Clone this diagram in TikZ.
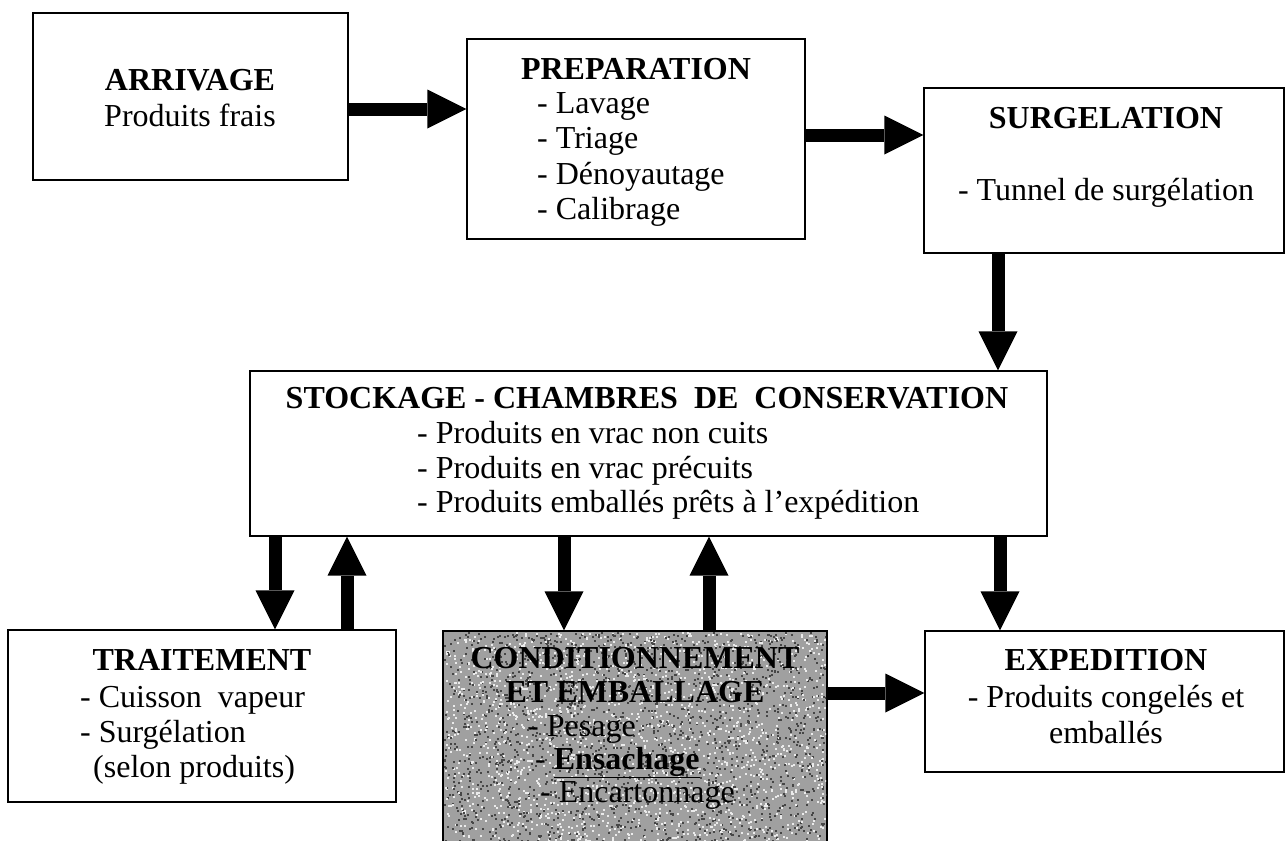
\documentclass[tikz,border=0pt]{standalone}
\usepackage{fontspec}
\setmainfont{Liberation Serif}
\usetikzlibrary{arrows.meta}
\definecolor{speckle}{RGB}{160,160,160}
\definecolor{darkspeck}{RGB}{70,70,70}
\definecolor{lightspeck}{RGB}{235,235,235}
\begin{document}
\begin{tikzpicture}[x=1pt,y=-1pt,
  box/.style={draw=black, line width=1.4pt, fill=white, inner sep=0pt, rectangle},
  flow/.style={line width=13pt, -{Triangle[length=39pt,width=39pt,line width'=0pt]}},
  txt/.style={inner sep=0pt, anchor=base, font=\fontsize{32}{36}\selectfont},
  txtl/.style={txt, anchor=base west},
  ttl/.style={inner sep=0pt, anchor=base, font=\fontsize{32}{36}\selectfont\bfseries}]
\useasboundingbox (0,0) rectangle (1286,841);
% boxes
\node[box, minimum width=315pt, minimum height=167pt] (arr) at (190.5,96.5) {};
\node[box, minimum width=338pt, minimum height=200pt] (prep) at (636,139) {};
\node[box, minimum width=360pt, minimum height=165pt] (surg) at (1104,170.5) {};
\node[box, minimum width=797pt, minimum height=165pt] (stock) at (648.5,453.5) {};
\node[box, minimum width=388pt, minimum height=172pt] (trait) at (202,716) {};
\node[box, fill=speckle, minimum width=384pt, minimum height=220pt] (cond) at (635,741) {};
\node[box, minimum width=359pt, minimum height=141pt] (exp) at (1104.5,701.5) {};
% speckled texture of the grey box
\pgfmathsetseed{7}
\begin{scope}
  \clip (444,632) rectangle (826,841);
  \foreach \i in {1,...,1800} {
    \fill[darkspeck] ({444+382*rnd},{632+209*rnd}) rectangle ++(2,2);
    \fill[lightspeck] ({444+382*rnd},{632+209*rnd}) rectangle ++(2,2);
  }
\end{scope}
\draw[line width=1.4pt] (cond.south west) -- (cond.north west) -- (cond.north east) -- (cond.south east);
% texts
\node[ttl] (tarr) at (190,90) {ARRIVAGE};
\node[txt] (tarr1) at (190,126) {Produits frais};
\node[ttl] (tprep) at (636,79) {PREPARATION};
\node[txtl] (tprep1) at (537,113) {- Lavage};
\node[txtl] (tprep2) at (537,148.5) {- Triage};
\node[txtl] (tprep3) at (537,184) {- Dénoyautage};
\node[txtl] (tprep4) at (537,219.5) {- Calibrage};
\node[ttl] (tsurg) at (1106,128) {SURGELATION};
\node[txt] (tsurg1) at (1106,200) {- Tunnel de surgélation};
\node[ttl] (tstock) at (647,408) {STOCKAGE - CHAMBRES\ \ DE\ \ CONSERVATION};
\node[txtl] (tstock1) at (417,443) {- Produits en vrac non cuits};
\node[txtl] (tstock2) at (417,478) {- Produits en vrac précuits};
\node[txtl] (tstock3) at (417,512) {- Produits emballés prêts à l’expédition};
\node[ttl] (ttrait) at (202,670) {TRAITEMENT};
\node[txtl] (ttrait1) at (80,707) {- Cuisson\ \ vapeur};
\node[txtl] (ttrait2) at (80,742) {- Surgélation};
\node[txtl] (ttrait3) at (93,777) {(selon produits)};
\node[ttl] (tcond) at (635,668) {CONDITIONNEMENT};
\node[ttl] (tcond1) at (635,702) {ET EMBALLAGE};
\node[txtl] (tcond2) at (528,736) {- Pesage};
\node[txtl] (tcond3) at (535,769) {- \textbf{\underline{Ensachage}}};
\node[txtl] (tcond4) at (540,802) {- Encartonnage};
\node[ttl] (texp) at (1106,670) {EXPEDITION};
\node[txt] (texp1) at (1106,707) {- Produits congelés et};
\node[txt] (texp2) at (1106,743) {emballés};
% helper coordinates
\coordinate (h1) at (0,109);
\coordinate (h2) at (0,135);
\coordinate (h3) at (0,693);
\coordinate (v1) at (998,0);
\coordinate (v2) at (275,0);
\coordinate (v3) at (347,0);
\coordinate (v4) at (564,0);
\coordinate (v5) at (709,0);
\coordinate (v6) at (1000,0);
% connectors
\draw[flow] (arr.east |- h1) -- (prep.west |- h1);
\draw[flow] (prep.east |- h2) -- (surg.west |- h2);
\draw[flow] (surg.south -| v1) -- (stock.north -| v1);
\draw[flow] (stock.south -| v2) -- (trait.north -| v2);
\draw[flow] (trait.north -| v3) -- (stock.south -| v3);
\draw[flow] (stock.south -| v4) -- (cond.north -| v4);
\draw[flow] (cond.north -| v5) -- (stock.south -| v5);
\draw[flow] (stock.south -| v6) -- (exp.north -| v6);
\draw[flow] (cond.east |- h3) -- (exp.west |- h3);
\end{tikzpicture}
\end{document}
